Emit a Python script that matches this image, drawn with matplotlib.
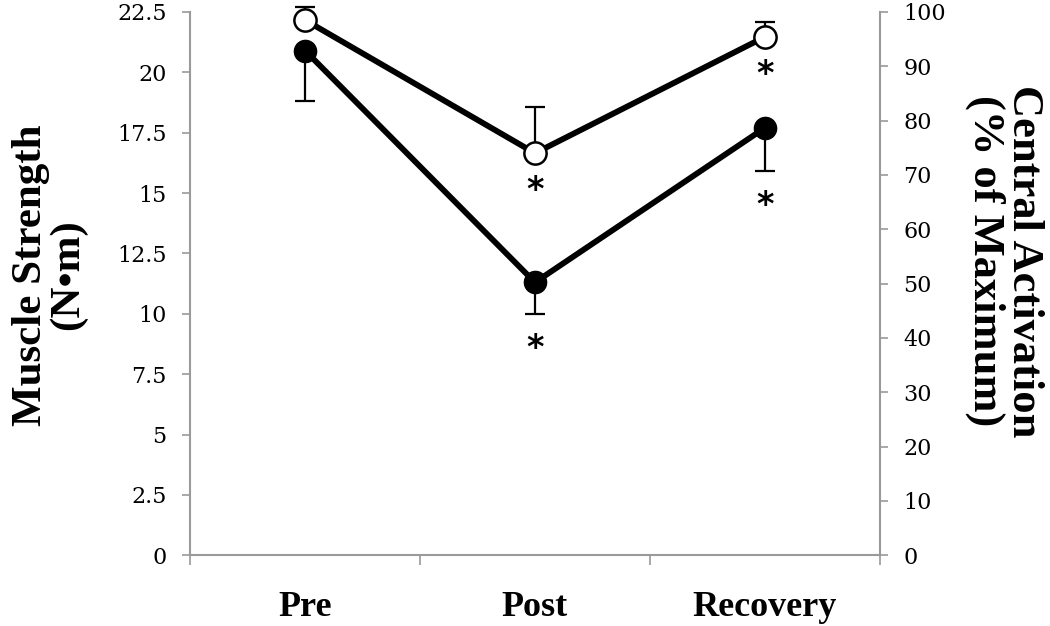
import matplotlib
matplotlib.use("Agg")
import matplotlib.pyplot as plt
import numpy as np

# time points
phases = ["Pre", "Post", "Recovery"]

# muscle strength (N·m), filled circles, left axis, error bar drawn downward
strength = [20.9, 11.3, 17.7]
strength_err = [2.1, 1.3, 1.8]
strength_sig = [False, True, True]

# central activation (% of max), open circles, right axis, error bar drawn upward
activation = [98.5, 74.0, 95.4]
activation_err = [2.4, 8.5, 2.8]
activation_sig = [False, True, True]

left_ticks = [0, 2.5, 5, 7.5, 10, 12.5, 15, 17.5, 20, 22.5]
left_ticklabels = ["0", "2.5", "5", "7.5", "10", "12.5", "15", "17.5", "20", "22.5"]
right_ticks = list(range(0, 101, 10))

grey = "#9a9a9a"
tick_font = "DejaVu Serif"
label_font = "Liberation Serif"

fig = plt.figure(figsize=(10.5, 6.26), dpi=100)
ax = fig.add_axes([0.181, 0.113, 0.657, 0.868])
ax2 = ax.twinx()

x = np.arange(len(phases))
zeros = np.zeros(len(phases))

# filled series
ax.errorbar(x, strength, yerr=[strength_err, zeros], fmt="none", ecolor="black",
            elinewidth=1.6, capsize=7, capthick=1.6, zorder=2, clip_on=False)
ax.plot(x, strength, color="black", lw=4.2, marker="o", ms=16,
        mfc="black", mec="black", zorder=3, clip_on=False)

# open series
ax2.errorbar(x, activation, yerr=[zeros, activation_err], fmt="none", ecolor="black",
             elinewidth=1.6, capsize=7, capthick=1.6, zorder=2, clip_on=False)
ax2.plot(x, activation, color="black", lw=4.2, marker="o", ms=16,
         mfc="white", mec="black", mew=1.8, zorder=3, clip_on=False)

# significance asterisks
for i, s in enumerate(strength_sig):
    if s:
        ax.annotate("*", (x[i], strength[i] - strength_err[i]), xytext=(0, -13),
                    textcoords="offset points", ha="center", va="top",
                    fontsize=24, fontweight="bold", family="DejaVu Sans")
for i, s in enumerate(activation_sig):
    if s:
        ax2.annotate("*", (x[i], activation[i]), xytext=(0, -15),
                     textcoords="offset points", ha="center", va="top",
                     fontsize=24, fontweight="bold", family="DejaVu Sans")

ax.set_xlim(-0.5, 2.5)
ax.set_ylim(0, 22.5)
ax2.set_ylim(0, 100)

ax.set_xticks(x)
ax.set_xticklabels(phases, fontsize=26, fontweight="bold", family=label_font)
ax.set_xticks([-0.5, 0.5, 1.5, 2.5], minor=True)
ax.tick_params(axis="x", which="major", length=0, pad=26)
ax.tick_params(axis="x", which="minor", length=7, width=1.2, color=grey, direction="out")

ax.set_yticks(left_ticks)
ax.set_yticklabels(left_ticklabels, fontsize=16, family=tick_font)
ax.tick_params(axis="y", length=6, width=1.2, color=grey, pad=11)

ax2.set_yticks(right_ticks)
ax2.set_yticklabels([str(v) for v in right_ticks], fontsize=16, family=tick_font)
ax2.tick_params(axis="y", length=6, width=1.2, color=grey, pad=11)

for a in (ax, ax2):
    a.spines["top"].set_visible(False)
    for side in ("left", "right", "bottom"):
        a.spines[side].set_color(grey)
        a.spines[side].set_linewidth(1.5)
ax2.spines["left"].set_visible(False)
ax2.spines["bottom"].set_visible(False)
ax.spines["right"].set_visible(False)

fig.text(0.047, 0.561, "Muscle Strength\n(N\u2022m)", rotation=90, ha="center", va="center",
         fontsize=31, fontweight="bold", family=label_font, linespacing=0.95)
fig.text(0.957, 0.583, "Central Activation\n(% of Maximum)", rotation=270, ha="center",
         va="center", fontsize=32, fontweight="bold", family=label_font, linespacing=0.95)

fig.savefig("out.png", dpi=100)
